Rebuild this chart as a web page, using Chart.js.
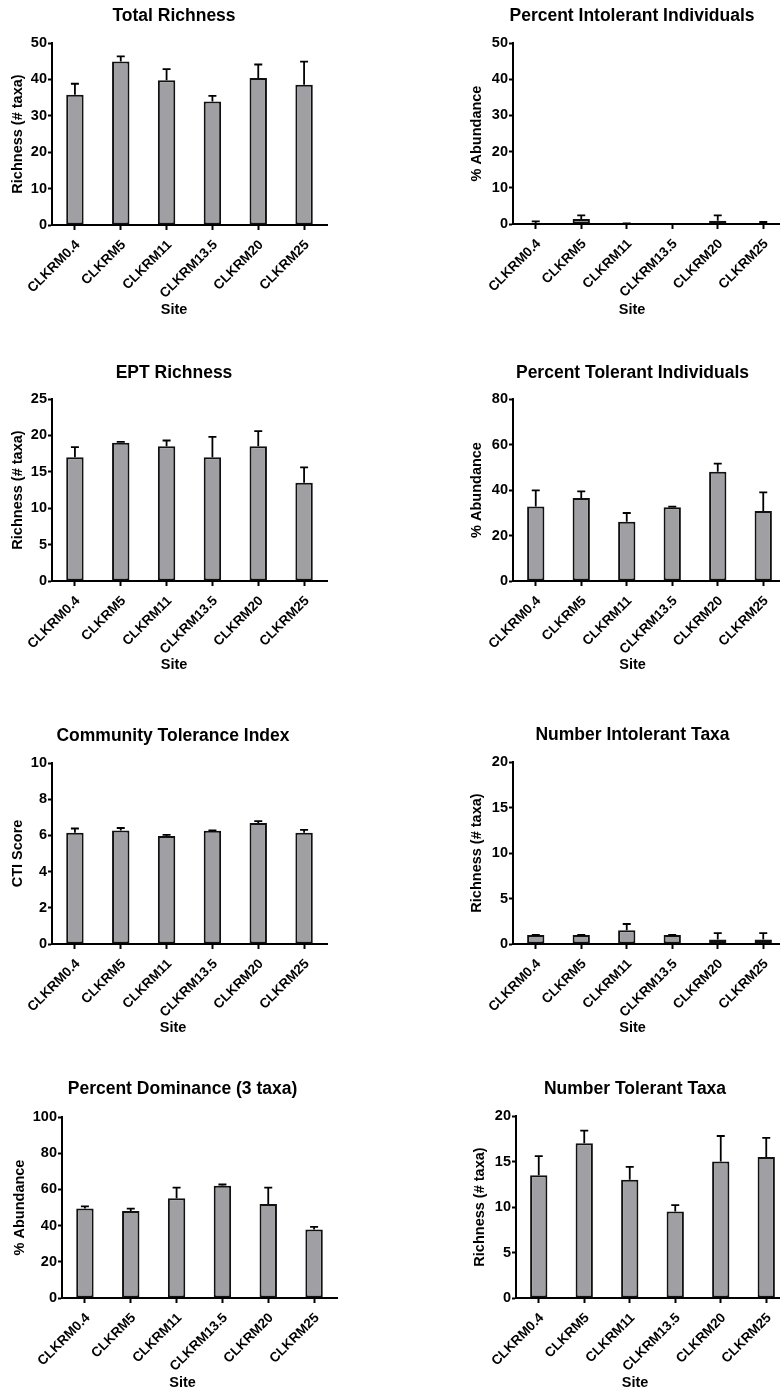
<!DOCTYPE html>
<html>
<head>
<meta charset="utf-8">
<title>CLKRM macroinvertebrate metrics</title>
<script src="https://cdn.jsdelivr.net/npm/chart.js@4/dist/chart.umd.min.js"></script>
<style>
  html, body { margin: 0; padding: 0; background: #fff; overflow: hidden; width: 780px; height: 1393px; }
  canvas { position: absolute; }
</style>
</head>
<body>
<script>
// Sampling sites along the river
const sites = ['CLKRM0.4', 'CLKRM5', 'CLKRM11', 'CLKRM13.5', 'CLKRM20', 'CLKRM25'];

// Total Richness (mean and SEM)
const totalRichness = [35.8, 44.9, 39.8, 33.9, 40.4, 38.5];
const totalRichnessSem = [3.0, 1.4, 3.0, 1.6, 3.7, 6.4];
const totalRichnessTicks = [0, 10, 20, 30, 40, 50];

// Percent Intolerant Individuals
const pctIntolerant = [0.2, 1.4, 0.05, 0, 0.9, 0.15];
const pctIntolerantSem = [0.5, 1.0, 0.15, 0, 1.5, 0.4];
const pctIntolerantTicks = [0, 10, 20, 30, 40, 50];

// EPT Richness
const eptRichness = [17, 19, 18.5, 17, 18.5, 13.5];
const eptRichnessSem = [1.4, 0.1, 0.8, 2.8, 2.1, 2.1];
const eptRichnessTicks = [0, 5, 10, 15, 20, 25];

// Percent Tolerant Individuals
const pctTolerant = [32.8, 36.5, 26, 32.4, 48, 30.8];
const pctTolerantSem = [7.0, 2.9, 3.9, 0.3, 3.6, 8.2];
const pctTolerantTicks = [0, 20, 40, 60, 80];

// Community Tolerance Index
const ctiScore = [6.15, 6.27, 5.97, 6.26, 6.69, 6.15];
const ctiScoreSem = [0.23, 0.14, 0.06, 0.02, 0.1, 0.15];
const ctiScoreTicks = [0, 2, 4, 6, 8, 10];

// Number Intolerant Taxa
const nIntolerant = [1, 1, 1.5, 1, 0.5, 0.5];
const nIntolerantSem = [0, 0, 0.7, 0, 0.7, 0.7];
const nIntolerantTicks = [0, 5, 10, 15, 20];

// Percent Dominance (3 taxa)
const pctDominance = [49.4, 48.1, 55.1, 62, 52, 37.9];
const pctDominanceSem = [1.2, 1.3, 5.9, 0.7, 9, 1.4];
const pctDominanceTicks = [0, 20, 40, 60, 80, 100];

// Number Tolerant Taxa
const nTolerant = [13.5, 17, 13, 9.5, 15, 15.5];
const nTolerantSem = [2.1, 1.4, 1.4, 0.7, 2.8, 2.1];
const nTolerantTicks = [0, 5, 10, 15, 20];

const FONT = "'Liberation Sans', Arial, Helvetica, sans-serif";
const BAR_FILL = '#a0a0a4';
const INK = '#000';
const TITLE_SIZE = 17.5;
const AXIS_TITLE_SIZE = 14.5;
Chart.defaults.font.family = FONT;
Chart.defaults.color = INK;

// Upper error bars (mean + SEM) with a short cap
const errorBarPlugin = {
  id: 'errorBars',
  afterDatasetsDraw(chart, args, opts) {
    const meta = chart.getDatasetMeta(0);
    const yScale = chart.scales.y;
    const vals = chart.data.datasets[0].data;
    const ctx = chart.ctx;
    ctx.save();
    ctx.strokeStyle = INK;
    ctx.lineWidth = 1.8;
    meta.data.forEach((bar, i) => {
      const e = opts.values[i];
      if (e == null || (vals[i] === 0 && e === 0)) return;
      const y0 = yScale.getPixelForValue(vals[i]);
      const y1 = yScale.getPixelForValue(vals[i] + e);
      ctx.beginPath();
      ctx.moveTo(bar.x, y0);
      ctx.lineTo(bar.x, y1);
      ctx.moveTo(bar.x - 4, y1);
      ctx.lineTo(bar.x + 4, y1);
      ctx.stroke();
    });
    ctx.restore();
  }
};

function panel(spec) {
  const c = document.createElement('canvas');
  c.width = spec.width;
  c.height = spec.height;
  c.style.left = spec.left + 'px';
  c.style.top = spec.top + 'px';
  c.style.width = spec.width + 'px';
  c.style.height = spec.height + 'px';
  document.body.appendChild(c);

  const bottom = spec.top + spec.height;
  const siteH = 22;
  const a = spec.area;
  const halfTitle = TITLE_SIZE * 1.2 / 2;
  const halfAxisTitle = AXIS_TITLE_SIZE * 1.2 / 2;

  new Chart(c, {
    type: 'bar',
    data: {
      labels: sites,
      datasets: [{
        data: spec.values,
        xAxisID: 'x',
        yAxisID: 'y',
        backgroundColor: BAR_FILL,
        borderColor: '#111',
        borderWidth: 2,
        borderSkipped: false,
        categoryPercentage: 1,
        barPercentage: 0.38
      }]
    },
    options: {
      responsive: false,
      animation: false,
      devicePixelRatio: 1,
      layout: { padding: 0 },
      plugins: {
        legend: { display: false },
        tooltip: { enabled: false },
        title: {
          display: true,
          text: spec.title,
          color: INK,
          font: { size: TITLE_SIZE, weight: 'bold' },
          padding: { top: spec.titleY - spec.top - halfTitle, bottom: a.t - spec.titleY - halfTitle }
        },
        errorBars: { values: spec.errors }
      },
      scales: {
        x: {
          type: 'category',
          position: 'bottom',
          offset: true,
          grid: { display: true, drawOnChartArea: false, offset: false, drawTicks: true,
                  tickLength: 5, tickWidth: 2, tickColor: INK },
          border: { display: true, color: INK, width: 2 },
          ticks: { color: INK, font: { size: 13.5, weight: 'bold' }, minRotation: 45, maxRotation: 45,
                   padding: 7, labelOffset: 3, autoSkip: false },
          afterFit: s => { s.height = bottom - siteH - a.b; }
        },
        xSite: {
          type: 'category',
          position: 'bottom',
          fullSize: true,
          weight: 1,
          grid: { display: false },
          border: { display: false },
          ticks: { display: false },
          title: { display: true, text: 'Site', color: INK, font: { size: AXIS_TITLE_SIZE, weight: 'bold' },
                   padding: { top: 0, bottom: bottom - spec.siteY - halfAxisTitle } },
          afterFit: s => { s.height = siteH; }
        },
        y: {
          type: 'linear',
          position: 'left',
          min: spec.ticks[0],
          max: spec.ticks[spec.ticks.length - 1],
          grid: { display: true, drawOnChartArea: false, drawTicks: true,
                  tickLength: 4, tickWidth: 2, tickColor: INK },
          border: { display: true, color: INK, width: 2 },
          ticks: { color: INK, font: { size: 14.5, weight: 'bold' }, padding: 1 },
          afterBuildTicks: s => { s.ticks = spec.ticks.map(v => ({ value: v })); },
          title: { display: true, text: spec.yTitle, color: INK, font: { size: AXIS_TITLE_SIZE, weight: 'bold' },
                   padding: { top: spec.yTitleX - spec.left - halfAxisTitle, bottom: 0 } },
          afterFit: s => { s.width = a.l - spec.left; }
        },
        yPad: {
          type: 'linear',
          position: 'right',
          grid: { display: false },
          border: { display: false },
          ticks: { display: false },
          afterFit: s => { s.width = spec.left + spec.width - a.r; }
        }
      }
    },
    plugins: [errorBarPlugin]
  });
}

panel({ title: 'Total Richness', yTitle: 'Richness (# taxa)',
  values: totalRichness, errors: totalRichnessSem, ticks: totalRichnessTicks,
  left: 0, top: 0, width: 348, height: 322,
  area: { l: 52, t: 43, r: 327, b: 225 }, titleY: 16, yTitleX: 18, siteY: 310 });

panel({ title: 'Percent Intolerant Individuals', yTitle: '% Abundance',
  values: pctIntolerant, errors: pctIntolerantSem, ticks: pctIntolerantTicks,
  left: 390, top: 0, width: 484, height: 322,
  area: { l: 513, t: 43, r: 786, b: 224 }, titleY: 16, yTitleX: 477, siteY: 310 });

panel({ title: 'EPT Richness', yTitle: 'Richness (# taxa)',
  values: eptRichness, errors: eptRichnessSem, ticks: eptRichnessTicks,
  left: 0, top: 345, width: 348, height: 332,
  area: { l: 52, t: 399, r: 327, b: 581 }, titleY: 373, yTitleX: 18, siteY: 665 });

panel({ title: 'Percent Tolerant Individuals', yTitle: '% Abundance',
  values: pctTolerant, errors: pctTolerantSem, ticks: pctTolerantTicks,
  left: 390, top: 345, width: 485, height: 332,
  area: { l: 513, t: 399, r: 786, b: 581 }, titleY: 373, yTitleX: 477, siteY: 665 });

panel({ title: 'Community Tolerance Index', yTitle: 'CTI Score',
  values: ctiScore, errors: ctiScoreSem, ticks: ctiScoreTicks,
  left: 0, top: 705, width: 346, height: 335,
  area: { l: 52, t: 763, r: 327, b: 944 }, titleY: 736, yTitleX: 18, siteY: 1028 });

panel({ title: 'Number Intolerant Taxa', yTitle: 'Richness (# taxa)',
  values: nIntolerant, errors: nIntolerantSem, ticks: nIntolerantTicks,
  left: 390, top: 705, width: 485, height: 335,
  area: { l: 513, t: 762, r: 786, b: 944 }, titleY: 735, yTitleX: 477, siteY: 1028 });

panel({ title: 'Percent Dominance (3 taxa)', yTitle: '% Abundance',
  values: pctDominance, errors: pctDominanceSem, ticks: pctDominanceTicks,
  left: 0, top: 1060, width: 365, height: 333,
  area: { l: 62, t: 1117, r: 337, b: 1298 }, titleY: 1089, yTitleX: 20, siteY: 1383 });

panel({ title: 'Number Tolerant Taxa', yTitle: 'Richness (# taxa)',
  values: nTolerant, errors: nTolerantSem, ticks: nTolerantTicks,
  left: 390, top: 1060, width: 490, height: 333,
  area: { l: 516, t: 1116, r: 789, b: 1298 }, titleY: 1089, yTitleX: 480, siteY: 1383 });
</script>
</body>
</html>
